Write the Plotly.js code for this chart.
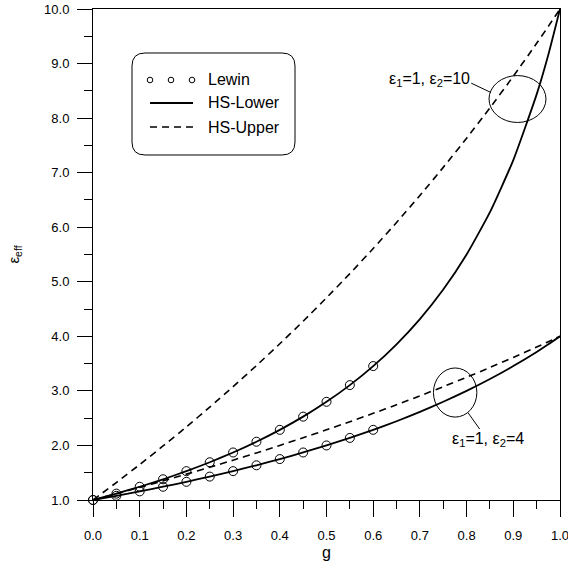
<!DOCTYPE html>
<html>
<head>
<meta charset="utf-8">
<script src="https://cdn.plot.ly/plotly-3.0.1.min.js"></script>
<style>html,body{margin:0;padding:0;background:#fff;}</style>
</head>
<body>
<div id="chart" style="width:568px;height:570px;"></div>
<script>
// volume fraction grid for the bound curves
const g = [0, 0.05, 0.1, 0.15, 0.2, 0.25, 0.3, 0.35, 0.4, 0.45, 0.5, 0.55, 0.6, 0.65, 0.7, 0.75, 0.8, 0.85, 0.9, 0.95, 0.975, 1.0];
// eps1=1, eps2=10
const hsLower10 = [1.0, 1.117, 1.243, 1.380, 1.529, 1.692, 1.871, 2.068, 2.286, 2.528, 2.800, 3.106, 3.455, 3.854, 4.316, 4.857, 5.500, 6.276, 7.231, 8.435, 9.163, 10.0];
const hsUpper10 = [1.0, 1.320, 1.649, 1.990, 2.340, 2.703, 3.077, 3.464, 3.864, 4.277, 4.706, 5.150, 5.610, 6.087, 6.582, 7.097, 7.632, 8.188, 8.767, 9.371, 9.682, 10.0];
// eps1=1, eps2=4
const hsLower4 = [1.0, 1.077, 1.158, 1.243, 1.333, 1.429, 1.529, 1.636, 1.750, 1.871, 2.000, 2.138, 2.286, 2.444, 2.615, 2.800, 3.000, 3.217, 3.455, 3.714, 3.854, 4.0];
const hsUpper4 = [1.0, 1.114, 1.231, 1.351, 1.474, 1.600, 1.730, 1.863, 2.000, 2.141, 2.286, 2.435, 2.588, 2.746, 2.909, 3.077, 3.250, 3.429, 3.613, 3.803, 3.901, 4.0];
// Lewin points
const gLewin = [0, 0.05, 0.1, 0.15, 0.2, 0.25, 0.3, 0.35, 0.4, 0.45, 0.5, 0.55, 0.6];
const lewin10 = [1.0, 1.117, 1.243, 1.380, 1.529, 1.692, 1.871, 2.068, 2.286, 2.528, 2.800, 3.106, 3.455];
const lewin4 = [1.0, 1.077, 1.158, 1.243, 1.333, 1.429, 1.529, 1.636, 1.750, 1.871, 2.000, 2.138, 2.286];
const xTicks = [0, 0.1, 0.2, 0.3, 0.4, 0.5, 0.6, 0.7, 0.8, 0.9, 1.0];
const yTicks = [1, 2, 3, 4, 5, 6, 7, 8, 9, 10];
const legendNames = ['Lewin', 'HS-Lower', 'HS-Upper'];

const FONT = 'Liberation Sans, Arial, sans-serif';
const solid = {color: '#000', width: 1.8, shape: 'spline', smoothing: 0.5};
const dashed = {color: '#000', width: 1.6, dash: '7px,5px', shape: 'spline', smoothing: 0.5};
const mk = {symbol: 'circle-open', size: 9, color: '#000', line: {width: 1, color: '#000'}};

const traces = [
  {x: g, y: hsLower10, mode: 'lines', line: solid, name: 'HS-Lower'},
  {x: g, y: hsUpper10, mode: 'lines', line: dashed, name: 'HS-Upper'},
  {x: g, y: hsLower4, mode: 'lines', line: solid, name: 'HS-Lower'},
  {x: g, y: hsUpper4, mode: 'lines', line: dashed, name: 'HS-Upper'},
  {x: gLewin, y: lewin10, mode: 'markers', marker: mk, name: 'Lewin', cliponaxis: false},
  {x: gLewin, y: lewin4, mode: 'markers', marker: mk, name: 'Lewin', cliponaxis: false}
];

// plot area geometry in pixels (for decorations)
const W = 568, H = 570, L = 93, R = 8, T = 9, B = 70;
const pw = W - L - R, ph = H - T - B;
const px = v => (v - L) / pw;
const py = v => 1 - (v - T) / ph;

// rounded legend box
const bx0 = 132, bx1 = 295, by0 = 53, by1 = 155, rr = 13;
function pathStr() {
  const pts = [
    ['M', [bx0 + rr, by0]],
    ['L', [bx1 - rr, by0]],
    ['Q', [bx1, by0], [bx1, by0 + rr]],
    ['L', [bx1, by1 - rr]],
    ['Q', [bx1, by1], [bx1 - rr, by1]],
    ['L', [bx0 + rr, by1]],
    ['Q', [bx0, by1], [bx0, by1 - rr]],
    ['L', [bx0, by0 + rr]],
    ['Q', [bx0, by0], [bx0 + rr, by0]]
  ];
  return pts.map(p => p[0] + p.slice(1).map(c => px(c[0]).toFixed(5) + ',' + py(c[1]).toFixed(5)).join(' ')).join(' ') + ' Z';
}

const shapes = [
  {type: 'path', xref: 'paper', yref: 'paper', path: pathStr(), line: {color: '#000', width: 1}}
];
// legend glyphs
[150, 171, 192].forEach(cx => {
  const r = 2.8, cy = 80;
  shapes.push({type: 'circle', xref: 'paper', yref: 'paper', x0: px(cx - r), x1: px(cx + r), y0: py(cy + r), y1: py(cy - r), line: {color: '#000', width: 1}});
});
shapes.push({type: 'line', xref: 'paper', yref: 'paper', x0: px(150), x1: px(193), y0: py(103), y1: py(103), line: {color: '#000', width: 1.8}});
shapes.push({type: 'line', xref: 'paper', yref: 'paper', x0: px(150), x1: px(193), y0: py(127), y1: py(127), line: {color: '#000', width: 1.6, dash: '7px,5px'}});
// ellipses and leader lines (data coords)
shapes.push({type: 'circle', xref: 'x', yref: 'y', x0: 0.848, x1: 0.97, y0: 7.92, y1: 8.78, line: {color: '#000', width: 1}});
shapes.push({type: 'line', xref: 'x', yref: 'y', x0: 0.81, x1: 0.852, y0: 8.64, y1: 8.47, line: {color: '#000', width: 1}});
shapes.push({type: 'circle', xref: 'x', yref: 'y', x0: 0.729, x1: 0.822, y0: 2.52, y1: 3.42, line: {color: '#000', width: 1}});
shapes.push({type: 'line', xref: 'x', yref: 'y', x0: 0.803, x1: 0.828, y0: 2.6, y1: 2.3, line: {color: '#000', width: 1}});

const annotations = [
  {xref: 'paper', yref: 'paper', x: px(206), y: py(80), xanchor: 'left', yanchor: 'middle', text: legendNames[0], showarrow: false, font: {family: FONT, size: 16, color: '#000'}},
  {xref: 'paper', yref: 'paper', x: px(206), y: py(103), xanchor: 'left', yanchor: 'middle', text: legendNames[1], showarrow: false, font: {family: FONT, size: 16, color: '#000'}},
  {xref: 'paper', yref: 'paper', x: px(206), y: py(127), xanchor: 'left', yanchor: 'middle', text: legendNames[2], showarrow: false, font: {family: FONT, size: 16, color: '#000'}},
  {xref: 'x', yref: 'y', x: 0.812, y: 8.7, xanchor: 'right', yanchor: 'middle', text: 'ε<sub>1</sub>=1, ε<sub>2</sub>=10', showarrow: false, font: {family: FONT, size: 16, color: '#000'}},
  {xref: 'x', yref: 'y', x: 0.845, y: 2.1, xanchor: 'center', yanchor: 'middle', text: 'ε<sub>1</sub>=1, ε<sub>2</sub>=4', showarrow: false, font: {family: FONT, size: 16, color: '#000'}}
];

const axisCommon = {
  showline: true, linecolor: '#000', linewidth: 1, mirror: true,
  ticks: 'outside', tickcolor: '#000', tickwidth: 1,
  showgrid: false, zeroline: false,
  tickfont: {family: FONT, size: 13, color: '#000'},
  tickformat: '.1f', ticklabeloverflow: 'allow'
};

const layout = {
  width: W, height: H,
  margin: {l: L, r: R, t: T, b: B},
  paper_bgcolor: '#fff', plot_bgcolor: '#fff',
  showlegend: false,
  font: {family: FONT, color: '#000'},
  xaxis: Object.assign({}, axisCommon, {
    range: [0, 1], tickvals: xTicks, ticklen: 16, ticklabelstandoff: 7,
    minor: {dtick: 0.05, ticklen: 8, tickcolor: '#000', ticks: 'outside', showgrid: false},
    title: {text: 'g', font: {family: FONT, size: 16, color: '#000'}, standoff: 5}
  }),
  yaxis: Object.assign({}, axisCommon, {
    range: [1, 10], tickvals: yTicks, ticklen: 15, ticklabelstandoff: 5,
    minor: {dtick: 0.5, ticklen: 8, tickcolor: '#000', ticks: 'outside', showgrid: false},
    title: {text: 'ε<sub>eff</sub>', font: {family: FONT, size: 15, color: '#000'}, standoff: 20}
  }),
  shapes: shapes,
  annotations: annotations
};

Plotly.newPlot('chart', traces, layout, {displayModeBar: false, staticPlot: true});
</script>
</body>
</html>
